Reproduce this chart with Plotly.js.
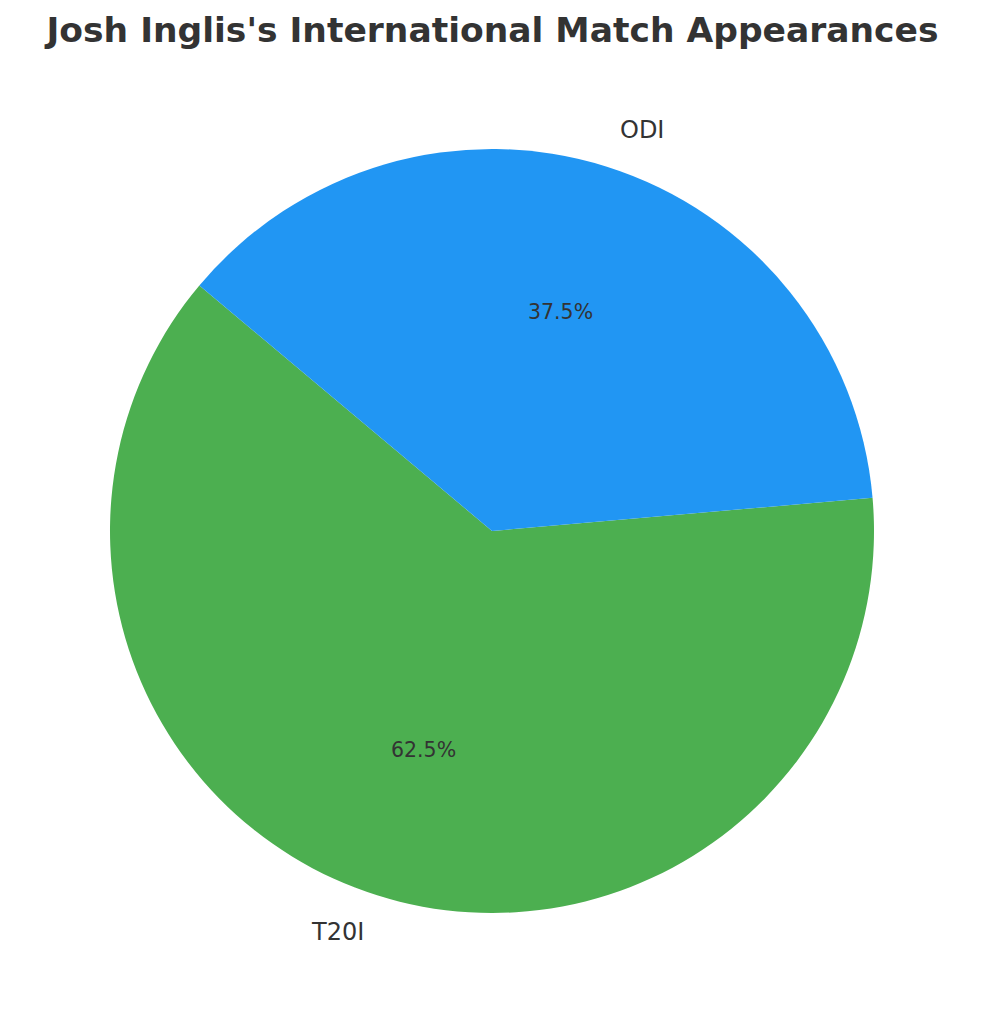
<!DOCTYPE html>
<html>
<head>
<meta charset="utf-8">
<script src="https://cdn.plot.ly/plotly-3.0.1.min.js"></script>
<style>
  html, body { margin: 0; padding: 0; background: #fff; }
  #chart { width: 985px; height: 1024px; }
</style>
</head>
<body>
<div id="chart"></div>
<script>
// match types and appearance counts (ratio read from the 62.5 / 37.5 split)
const formats = ["T20I", "ODI"];
const appearances = [10, 6];
const sliceColors = ["#4CAF50", "#2196F3"];

const startAngle = 140;   // degrees, counterclockwise from 3 o'clock
const labelDistance = 1.1;
const pctDistance = 0.6;

const total = appearances.reduce((a, b) => a + b, 0);

// put labels where matplotlib-style pies put them, from the slice mid angles
function buildAnnotations() {
    var notes = [];
    var angle = startAngle;
    formats.forEach((name, i) => {
        var span = 360 * appearances[i] / total;
        var mid = (angle + span / 2) * Math.PI / 180;
        angle += span;
        var cx = Math.cos(mid), cy = Math.sin(mid);
        // pie radius is 0.5 in paper units (square plot area)
        notes.push({
            xref: "paper", yref: "paper",
            x: 0.5 + 0.5 * labelDistance * cx,
            y: 0.5 + 0.5 * labelDistance * cy,
            text: name,
            showarrow: false,
            xanchor: cx < 0 ? "right" : "left",
            yanchor: "middle",
            font: {family: "DejaVu Sans", size: 24, color: "#333333"}
        });
        notes.push({
            xref: "paper", yref: "paper",
            x: 0.5 + 0.5 * pctDistance * cx,
            y: 0.5 + 0.5 * pctDistance * cy,
            text: (100 * appearances[i] / total).toFixed(1) + "%",
            showarrow: false,
            xanchor: "center",
            yanchor: "middle",
            font: {family: "DejaVu Sans", size: 20.5, color: "#333333"}
        });
    });
    return notes;
}

// plotly measures rotation clockwise from 12 o'clock, and for counterclockwise
// pies the first slice ends (not starts) at that angle
var firstSpan = 360 * appearances[0] / total;

var data = [{
    type: "pie",
    labels: formats,
    values: appearances,
    marker: {colors: sliceColors, line: {width: 0}},
    sort: false,
    direction: "counterclockwise",
    rotation: 90 - startAngle - firstSpan,
    textinfo: "none",
    hoverinfo: "skip",
    showlegend: false
}];

const layout = {
    width: 985,
    height: 1024,
    margin: {l: 110, r: 111, t: 149, b: 111, pad: 0},
    paper_bgcolor: "#ffffff",
    plot_bgcolor: "#ffffff",
    title: {
        text: "<b>Josh Inglis's International Match Appearances</b>",
        font: {family: "DejaVu Sans", size: 34.5, color: "#333333"},
        x: 0.5, xanchor: "center",
        y: 1 - 30 / 1024, yref: "container", yanchor: "middle"
    },
    annotations: buildAnnotations(),
    showlegend: false
};

Plotly.newPlot("chart", data, layout, {displayModeBar: false, staticPlot: true});
</script>
</body>
</html>
